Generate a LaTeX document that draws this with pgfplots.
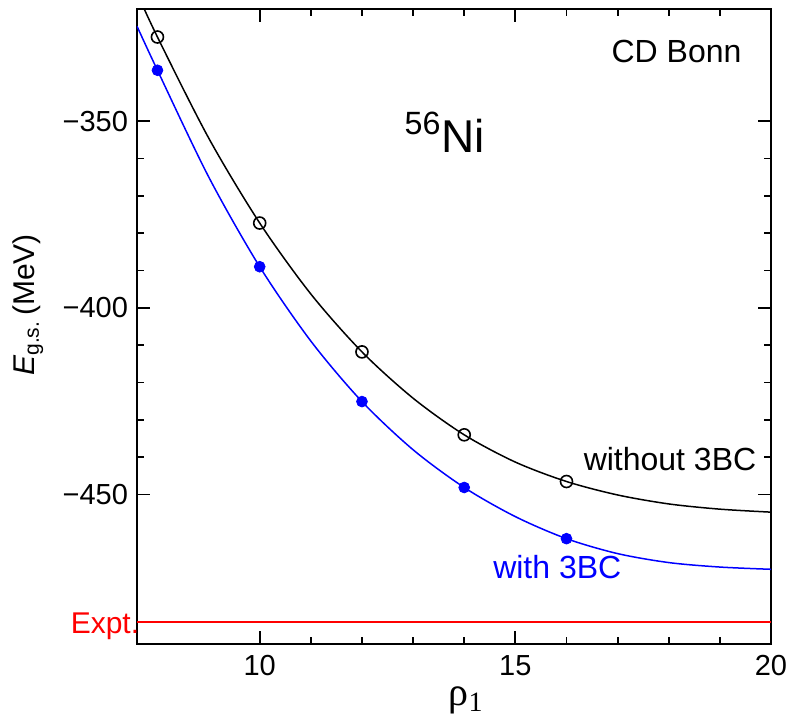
\documentclass[border=0pt]{standalone}
\usepackage{pgfplots}
\pgfplotsset{compat=1.18}
\usepackage{fontspec}
\setmainfont{Liberation Sans}
\newfontfamily\seriffont{Liberation Serif}
\definecolor{exptred}{RGB}{255,0,0}

\begin{document}
\begin{tikzpicture}
\begin{axis}[
  scale only axis,
  width=317pt, height=317.5pt,
  xmin=7.6, xmax=20, ymin=-490, ymax=-320,
  xtick={10,15,20}, xticklabels={10,15,20},
  ytick={-450,-400,-350}, yticklabels={−450,−400,−350},
  minor x tick num=4, minor y tick num=4,
  tick align=inside,
  major tick length=6.5pt, minor tick length=3.5pt,
  every tick/.style={black, line width=0.9pt},
  axis line style={line width=1pt},
  tick label style={font=\fontsize{14.5}{17}\selectfont},
  xticklabel style={yshift=-2pt},
  yticklabel style={xshift=-1pt},
  xlabel={\seriffont\fontsize{20}{22}\selectfont ρ\textsubscript{1}},
  ylabel={\fontsize{15}{18}\selectfont{\itshape E}\textsubscript{g.s.}\,(MeV)},
  every axis x label/.style={at={(axis description cs:0.519,-0.088)}, anchor=center},
  every axis y label/.style={at={(axis description cs:-0.172,0.534)}, rotate=90, anchor=center},
  clip mode=individual,
]
% fitted curves
\addplot[black, line width=0.75pt, smooth, no marks] coordinates {
  (7.6,-315.7) (8,-327.5) (9,-354.5) (10,-377.3) (11,-396.3) (12,-411.8)
  (13,-424.2) (14,-434.0) (15,-441.3) (16,-446.5) (17,-450.1) (18,-452.5)
  (19,-453.9) (20,-454.7)};
\addplot[blue, line width=0.75pt, smooth, no marks] coordinates {
  (7.6,-324.6) (8,-336.4) (9,-364.9) (10,-389.0) (11,-408.9) (12,-425.1)
  (13,-438.0) (14,-448.1) (15,-455.9) (16,-461.8) (17,-465.8) (18,-468.2)
  (19,-469.4) (20,-470.0)};

% experimental value
\addplot[exptred, line width=1pt, no marks] table {
x y
7.6 -484
20 -484
};

% calculated points
\addplot[only marks, mark=o, mark size=3pt, black, line width=0.8pt] coordinates {
  (8,-327.5) (10,-377.3) (12,-411.8) (14,-434.0) (16,-446.5)};
\addplot[only marks, mark=*, mark size=2.7pt, blue] coordinates {
  (8,-336.4) (10,-389.0) (12,-425.1) (14,-448.1) (16,-461.8)};

\node[anchor=east, inner sep=0pt, font=\fontsize{16}{18}\selectfont] at (axis cs:19.43,-331.3) {CD Bonn};
\node[anchor=base, font=\fontsize{23}{26}\selectfont] at (axis cs:13.62,-358.3) {\textsuperscript{56}Ni};
\node[anchor=base east, inner sep=0pt, font=\fontsize{16}{18}\selectfont] at (axis cs:19.72,-443.5) {without 3BC};
\node[anchor=base east, inner sep=0pt, text=blue, font=\fontsize{16}{18}\selectfont] at (axis cs:17.08,-472.5) {with 3BC};
\node[anchor=base east, inner sep=0pt, text=red, font=\fontsize{15}{18}\selectfont] at (axis cs:7.65,-487.2) {Expt.};
\end{axis}
\path ([xshift=-68.5pt,yshift=-38pt]current axis.south west)
  rectangle ([xshift=11.5pt,yshift=4.5pt]current axis.north east);
\end{tikzpicture}
\end{document}
